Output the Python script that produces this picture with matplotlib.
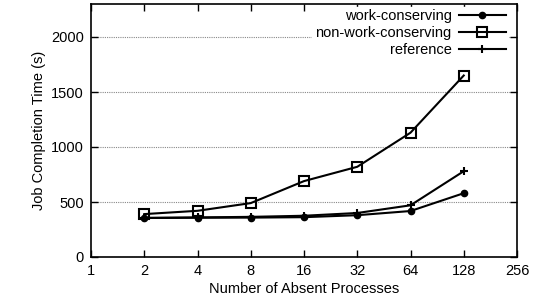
import numpy as np
import matplotlib
matplotlib.use("Agg")
import matplotlib.pyplot as plt

plt.rcParams["font.family"] = ["Liberation Sans", "DejaVu Sans"]
plt.rcParams["font.size"] = 10.5

procs = [2, 4, 8, 16, 32, 64, 128]
work_conserving = [355, 357, 358, 362, 380, 418, 580]
non_work_conserving = [390, 420, 490, 690, 820, 1130, 1650]
reference = [355, 360, 365, 375, 400, 470, 780]
xticks = [1, 2, 4, 8, 16, 32, 64, 128, 256]

fig = plt.figure(figsize=(5.36, 3.02), dpi=100)
ax = fig.add_axes([91 / 536, 45 / 302, 426 / 536, 253 / 302])

ax.plot(procs, work_conserving, color="black", lw=1.5, marker="o", ms=4.5,
        label="work-conserving")
ax.plot(procs, non_work_conserving, color="black", lw=1.5, marker="s", ms=7,
        mfc="none", mew=1.5, label="non-work-conserving")
ax.plot(procs, reference, color="black", lw=1.5, marker="+", ms=6, mew=1.5,
        label="reference")

ax.set_xscale("log", base=2)
ax.set_xlim(1, 256)
ax.set_xticks(xticks)
ax.set_xticklabels([str(v) for v in xticks])
ax.minorticks_off()
ax.set_ylim(0, 2300)
ax.set_yticks([0, 500, 1000, 1500, 2000])
ax.yaxis.grid(True, linestyle=(0, (1, 1)), color="#888888", lw=0.8)
ax.set_axisbelow(True)
ax.tick_params(direction="in", top=True, right=True, length=5, width=1, pad=5)
for s in ax.spines.values():
    s.set_linewidth(1.2)

ax.set_xlabel("Number of Absent Processes", labelpad=3)
ax.set_ylabel("Job Completion Time (s)")

leg = ax.legend(loc="upper right", frameon=True, fancybox=False,
                markerfirst=False, handlelength=3.2, borderpad=0.2,
                labelspacing=0.18, handletextpad=0.5, borderaxespad=0.,
                bbox_to_anchor=(0.98, 0.99),
                edgecolor="white", framealpha=1)
for t in leg.get_texts():
    t.set_ha("right")

fig.savefig("out.png", dpi=100)
